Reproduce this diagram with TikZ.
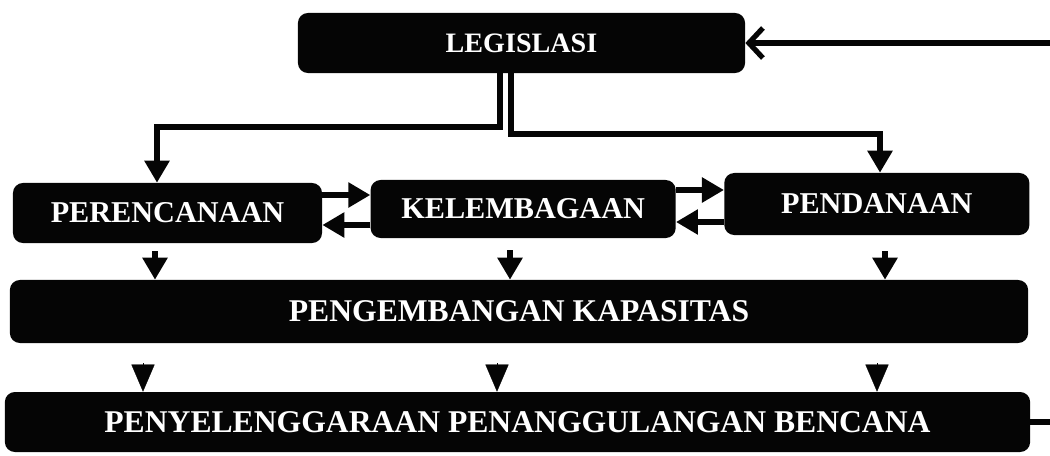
\documentclass[tikz,border=0pt]{standalone}
\usepackage{fontspec}
\usetikzlibrary{arrows.meta,positioning,calc}
\newfontfamily\boxfont{Liberation Serif}
\definecolor{Ink}{HTML}{050505}
\definecolor{Paper}{HTML}{FFFFFF}
\tikzset{
  box/.style={fill=Ink, rounded corners=0.25cm, text=Paper, inner sep=0pt, minimum height=1.5cm, font=\boxfont\bfseries\fontsize{21.5}{25}\selectfont},
  topbox/.style={box, font=\boxfont\bfseries\fontsize{20}{24}\selectfont},
  widebox/.style={box, font=\boxfont\bfseries\fontsize{22.5}{26}\selectfont},
  link/.style={draw=Ink, line width=0.17cm, -{Triangle[length=0.55cm,width=0.6cm]}},
  feed/.style={draw=Ink, line width=0.13cm, -{Straight Barb[length=0.35cm,width=0.75cm]}},
  tri/.style={draw=Ink, line width=0.2pt, -{Triangle[length=0.68cm,width=0.58cm]}}
}

\begin{document}
\begin{tikzpicture}[x=0.025cm, y=-0.025cm]
  \useasboundingbox (0,0) rectangle (1050,455);
  \clip (0,0) rectangle (1050,455);

  \node[topbox, minimum width=11.175cm] (leg) at (521.5,43) {LEGISLASI};
  \node[box, minimum width=7.725cm] (per) at (167.5,213) {PERENCANAAN};
  \node[box, right=1.2cm of per, yshift=0.1cm, minimum width=7.625cm, minimum height=1.45cm] (kel) {KELEMBAGAAN};
  \node[box, right=1.2cm of kel, yshift=0.125cm, minimum width=7.625cm, minimum height=1.55cm] (pen) {PENDANAAN};
  \node[widebox, minimum width=25.45cm, minimum height=1.575cm] (kap) at (519,311.5) {PENGEMBANGAN KAPASITAS};
  \node[widebox, minimum width=25.625cm] (ben) at (517.5,422) {PENYELENGGARAAN PENANGGULANGAN BENCANA};

  \draw[link] (leg.south -| 500,0) |- (157,127) -- (per.north -| 157,0);
  \draw[link] (leg.south -| 511,0) |- (880,134) -- (pen.north -| 880,0);

  \draw[link] (per.east |- 0,195) -- (kel.west |- 0,195);
  \draw[link] (kel.west |- 0,225) -- (per.east |- 0,225);
  \draw[link] (kel.east |- 0,190) -- (pen.west |- 0,190);
  \draw[link] (pen.west |- 0,222) -- (kel.east |- 0,222);

  \draw[link, shorten <=0.2cm] (per.south -| 155,0) -- (kap.north -| 155,0);
  \draw[link, shorten <=0.3cm] (kel.south -| 510,0) -- (kap.north -| 510,0);
  \draw[link, shorten <=0.4cm] (pen.south -| 885,0) -- (kap.north -| 885,0);

  \draw[tri, shorten <=0.5cm] (kap.south -| 143,0) -- (ben.north -| 143,0);
  \draw[tri, shorten <=0.5cm] (kap.south -| 497,0) -- (ben.north -| 497,0);
  \draw[tri, shorten <=0.5cm] (kap.south -| 877,0) -- (ben.north -| 877,0);

  \draw[feed] (ben.east) -- ++(60,0) |- (leg.east);
\end{tikzpicture}
\end{document}
